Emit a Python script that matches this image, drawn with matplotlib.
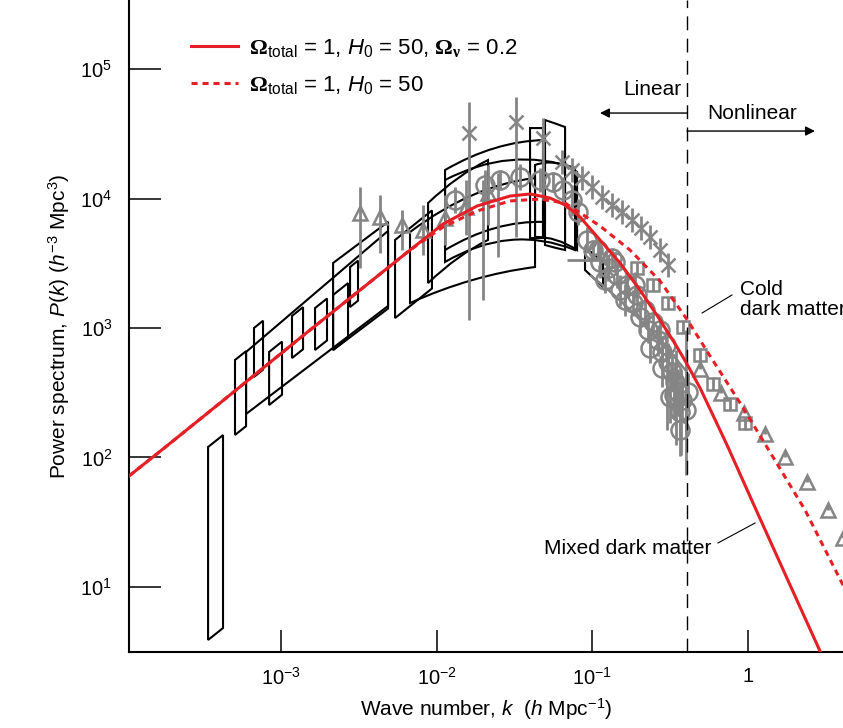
import numpy as np
import matplotlib
matplotlib.use('Agg')
import matplotlib.pyplot as plt
from matplotlib.path import Path
from matplotlib.patches import PathPatch, Polygon
from matplotlib.lines import Line2D
from matplotlib.ticker import NullLocator

plt.rcParams['font.family'] = ['Liberation Sans', 'DejaVu Sans']
plt.rcParams['mathtext.fontset'] = 'custom'
plt.rcParams['mathtext.rm'] = 'Liberation Sans'
plt.rcParams['mathtext.it'] = 'Liberation Sans:italic'
plt.rcParams['mathtext.bf'] = 'Liberation Serif:bold'

RED = '#e41f26'
GREY = '#858585'

# ---- theory curves (log10 k, log10 P)
mdm_logk = [-3.976, -3.757, -3.391, -2.877, -2.492, -2.171, -1.959, -1.741, -1.529, -1.400,
            -1.272, -1.175, -1.079, -0.951, -0.822, -0.694, -0.565, -0.456, -0.392, -0.308,
            -0.135, 0.058, 0.270, 0.462, 0.527]
mdm_logp = [1.857, 2.066, 2.421, 2.923, 3.293, 3.602, 3.803, 3.942, 4.019, 4.035,
            4.004, 3.950, 3.857, 3.680, 3.502, 3.293, 3.062, 2.853, 2.722, 2.537,
            2.097, 1.579, 1.015, 0.506, 0.344]
cdm_logk = [-3.976, -3.757, -3.391, -2.877, -2.492, -2.171, -1.959, -1.741, -1.529, -1.336,
            -1.175, -0.951, -0.758, -0.565, -0.385, -0.244, -0.051, 0.141, 0.366, 0.610, 0.655]
cdm_logp = [1.857, 2.066, 2.421, 2.923, 3.293, 3.602, 3.780, 3.903, 3.981, 3.996,
            3.965, 3.788, 3.602, 3.363, 3.054, 2.784, 2.421, 2.042, 1.595, 1.015, 0.915]

# ---- window boxes: logk1, logk2, bottom-left, top-left, bottom-right, top-right (log10 P)
boxes = [
    (-3.468, -3.372, 0.591, 2.081, 0.683, 2.173),
    (-3.295, -3.224, 2.174, 2.753, 2.242, 2.821),
    (-3.173, -3.115, 2.622, 3.000, 2.678, 3.056),
    (-3.076, -2.993, 2.405, 2.815, 2.485, 2.895),
    (-2.929, -2.858, 2.768, 3.093, 2.836, 3.161),
    (-2.781, -2.704, 2.830, 3.154, 2.904, 3.228),
    (-3.224, -2.312, 2.336, 2.815, 3.170, 3.750),
    (-2.665, -2.312, 2.830, 3.502, 3.150, 3.820),
    (-2.665, -2.569, 2.830, 3.255, 2.922, 3.347),
    (-2.556, -2.505, 3.162, 3.471, 3.211, 3.520),
    (-2.267, -2.030, 3.077, 3.680, 3.305, 3.908),
    (-1.047, -0.931, 3.448, 3.625, 3.317, 3.510),
]

# curved boxes near the peak: logk1, logk2, top (left, mid, right), bottom (left, mid, right)
curved_boxes = [
    (-2.055, -1.670, (3.965, 4.158, 4.297), (3.347, 3.541, 3.680)),
    (-1.946, -1.304, (4.220, 4.390, 4.452), (3.602, 3.772, 3.819)),
    (-1.946, -1.111, (4.143, 4.297, 4.236), (3.510, 3.680, 3.602)),
    (-2.171, -1.368, (3.741, 4.027, 4.158), (3.193, 3.371, 3.471)),
    (-1.368, -1.098, (4.259, 4.274, 4.205), (3.703, 3.680, 3.602)),
    (-1.400, -1.317, (4.544, 4.544, 4.544), (3.695, 3.695, 3.695)),
    (-1.304, -1.175, (4.606, 4.580, 4.552), (3.641, 3.620, 3.602)),
]
grey_edge_logk = (-1.015, -0.392)
grey_edge_logp = (3.409, 3.077, 2.660)

# ---- measurements
tri_logk = [-2.492, -2.364, -2.222, -2.087, -1.946, -1.811, -1.670]
tri_logp = [3.888, 3.857, 3.795, 3.757, 3.849, 3.934, 4.042]
tri_lo = [3.463, 3.579, 3.602, 3.564, 3.641, 3.718, 3.795]
tri_hi = [4.089, 4.027, 3.911, 3.950, 4.027, 4.143, 4.259]

tail_logk = [-0.308, -0.173, -0.026, 0.109, 0.238, 0.379, 0.514, 0.610]
tail_logp = [2.683, 2.498, 2.344, 2.181, 2.004, 1.811, 1.595, 1.378]

sq_logk = [-0.713, -0.610, -0.514, -0.417, -0.308, -0.225, -0.116, -0.019]
sq_logp = [3.463, 3.332, 3.193, 3.008, 2.792, 2.568, 2.413, 2.266]

big_x_logk = [-1.792, -1.490, -1.317]
big_x_logp = [4.506, 4.591, 4.467]
big_x_lo = [3.062, 3.703, 3.988]
big_x_hi = [4.745, 4.784, 4.622]

star_logk = [-1.195, -1.130, -1.066, -1.002, -0.938, -0.873, -0.809, -0.745, -0.687, -0.629,
             -0.565, -0.514]
star_logp = [4.282, 4.220, 4.158, 4.089, 4.012, 3.950, 3.896, 3.834, 3.772, 3.703,
             3.602, 3.486]

circ_logk = [-1.882, -1.689, -1.593, -1.464, -1.336, -1.252, -1.188, -1.130, -1.092,
             -1.034, -0.996, -0.951, -0.899, -0.873, -0.841, -0.822, -0.777, -0.739, -0.713,
             -0.694, -0.662, -0.642, -0.610, -0.578, -0.565, -0.552, -0.527, -0.514, -0.488,
             -0.469, -0.450, -0.501, -0.424, -0.398, -0.437,
             -0.918, -0.854, -0.790, -0.726, -0.629, -0.552, -0.475, -0.385, -0.963, -0.437]
circ_logp = [3.988, 4.104, 4.143, 4.166, 4.143, 4.127, 4.066, 3.988, 3.896,
             3.680, 3.602, 3.510, 3.463, 3.541, 3.409, 3.293, 3.332, 3.193, 3.255,
             3.085, 3.139, 2.985, 3.046, 2.907, 2.985, 2.815, 2.869, 2.737, 2.660,
             2.583, 2.506, 2.467, 2.444, 2.367, 2.351,
             3.371, 3.510, 3.216, 3.332, 2.846, 2.691, 2.483, 2.506, 3.602, 2.212]
circ_err = [0.10, 0.12, 0.08, 0.10, 0.09, 0.08, 0.10, 0.12, 0.10,
            0.10, 0.08, 0.12, 0.10, 0.08, 0.10, 0.12, 0.09, 0.10, 0.08,
            0.12, 0.10, 0.10, 0.08, 0.12, 0.09, 0.10, 0.12, 0.15, 0.12,
            0.15, 0.18, 0.20, 0.15, 0.18, 0.20,
            0.10, 0.08, 0.12, 0.10, 0.12, 0.15, 0.18, 0.15, 0.08, 0.20]

bar_logk = [-1.702, -1.606, -0.398, -0.462, -0.430, -0.520]
bar_lo = [3.216, 3.548, 1.865, 2.097, 2.019, 2.214]
bar_hi = [4.143, 4.197, 2.985, 2.830, 2.676, 2.792]

hbar_logk = (-1.163, -0.951)
hbar_logp = 3.525

k_split = 10 ** -0.392


def asym(logp, lo, hi):
    p = 10 ** np.array(logp)
    return p, [p - 10 ** np.array(lo), 10 ** np.array(hi) - p]


fig = plt.figure(figsize=(8.43, 7.28), dpi=100)
ax = fig.add_axes([0.153, 0.1044, 0.847, 0.8956])
ax.set_xscale('log')
ax.set_yscale('log')

# straight boxes
for k1, k2, b1, t1, b2, t2 in boxes:
    pts = 10 ** np.array([[k1, b1], [k1, t1], [k2, t2], [k2, b2]])
    ax.add_patch(Polygon(pts, closed=True, fill=False, ec='k', lw=1.5, zorder=2))

# curved boxes
for k1, k2, top, bot in curved_boxes:
    km = 0.5 * (k1 + k2)
    ct = 2 * top[1] - 0.5 * (top[0] + top[2])
    cb = 2 * bot[1] - 0.5 * (bot[0] + bot[2])
    verts = 10 ** np.array([[k1, top[0]], [km, ct], [k2, top[2]], [k2, bot[2]],
                            [km, cb], [k1, bot[0]], [k1, top[0]]])
    codes = [Path.MOVETO, Path.CURVE3, Path.CURVE3, Path.LINETO,
             Path.CURVE3, Path.CURVE3, Path.CLOSEPOLY]
    ax.add_patch(PathPatch(Path(verts, codes), fill=False, ec='k', lw=1.5, zorder=2))

km = 0.5 * (grey_edge_logk[0] + grey_edge_logk[1])
cg = 2 * grey_edge_logp[1] - 0.5 * (grey_edge_logp[0] + grey_edge_logp[2])
gv = 10 ** np.array([[grey_edge_logk[0], grey_edge_logp[0]], [km, cg],
                     [grey_edge_logk[1], grey_edge_logp[2]]])
ax.add_patch(PathPatch(Path(gv, [Path.MOVETO, Path.CURVE3, Path.CURVE3]),
                       fill=False, ec=GREY, lw=1.8, zorder=3))

# grey measurements
ekw = dict(ls='none', mfc='none', mec=GREY, ecolor=GREY, elinewidth=2, capsize=0,
           mew=1.8, zorder=3)
bk = 10 ** np.array(bar_logk)
ax.vlines(bk, 10 ** np.array(bar_lo), 10 ** np.array(bar_hi), color=GREY, lw=2, zorder=3)
ax.hlines(10 ** hbar_logp, 10 ** hbar_logk[0], 10 ** hbar_logk[1], color=GREY, lw=2, zorder=3)

p, e = asym(tri_logp, tri_lo, tri_hi)
ax.errorbar(10 ** np.array(tri_logk), p, yerr=e, fmt='^', ms=10, **ekw)
p, e = asym(big_x_logp, big_x_lo, big_x_hi)
ax.errorbar(10 ** np.array(big_x_logk), p, yerr=e, fmt='x', ms=10, **ekw)

p = 10 ** np.array(star_logp)
ax.errorbar(10 ** np.array(star_logk), p, yerr=[p - p / 10 ** 0.09, p * 10 ** 0.09 - p],
            fmt='x', ms=10, **ekw)
p = 10 ** np.array(circ_logp)
ce = 10 ** np.array(circ_err)
ax.errorbar(10 ** np.array(circ_logk), p, yerr=[p - p / ce, p * ce - p],
            fmt='o', ms=13, **ekw)
p = 10 ** np.array(sq_logp)
ax.errorbar(10 ** np.array(sq_logk), p, yerr=[p - p / 10 ** 0.05, p * 10 ** 0.05 - p],
            fmt='s', ms=9, **ekw)
p = 10 ** np.array(tail_logp)
ax.errorbar(10 ** np.array(tail_logk), p, yerr=[p * 0, p * 10 ** 0.045 - p],
            fmt='^', ms=10, **ekw)

# theory
ax.plot(10 ** np.array(cdm_logk), 10 ** np.array(cdm_logp), color=RED, lw=2.2,
        ls=(0, (2, 1.6)), zorder=5)
ax.plot(10 ** np.array(mdm_logk), 10 ** np.array(mdm_logp), color=RED, lw=2.2, zorder=6)

ax.axvline(k_split, color='k', lw=1, dashes=(10, 6), zorder=4)

ax.set_xlim(10 ** -3.976, 10 ** 0.610)
ax.set_ylim(10 ** 0.498, 10 ** 5.533)

ax.set_xticks([1e-3, 1e-2, 1e-1, 1])
ax.set_xticklabels([r'$10^{-3}$', r'$10^{-2}$', r'$10^{-1}$', '1'])
ax.set_yticks([1e1, 1e2, 1e3, 1e4, 1e5])
ax.set_yticklabels([r'$10^{1}$', r'$10^{2}$', r'$10^{3}$', r'$10^{4}$', r'$10^{5}$'])
ax.xaxis.set_minor_locator(NullLocator())
ax.yaxis.set_minor_locator(NullLocator())
ax.tick_params(axis='y', direction='in', length=23, width=1.1, pad=12, labelsize=14.5)
ax.tick_params(axis='x', direction='in', length=16, width=1.1, pad=11, labelsize=14.5)
for s in ['top', 'right']:
    ax.spines[s].set_visible(False)
for s in ['left', 'bottom']:
    ax.spines[s].set_linewidth(1.5)

ax.set_xlabel(r'Wave number, $k$  ($h$ Mpc$^{-1}$)', fontsize=15, labelpad=5)
ax.set_ylabel(r'Power spectrum, $P$($k$) ($h^{-3}$ Mpc$^{3}$)', fontsize=15, labelpad=6)

handles = [Line2D([], [], color=RED, lw=2.2),
           Line2D([], [], color=RED, lw=2.2, ls=(0, (2, 1.6)))]
labels = [r'$\mathbf{\Omega}_{\rm total}$ = 1, $H_0$ = 50, $\mathbf{\Omega}_{\mathbf{\nu}}$ = 0.2',
          r'$\mathbf{\Omega}_{\rm total}$ = 1, $H_0$ = 50']
ax.legend(handles, labels, loc='upper left', bbox_to_anchor=(0.075, 0.957), frameon=False,
          fontsize=16, handlelength=2.1, handletextpad=0.5, labelspacing=0.65,
          borderaxespad=0)

arr = dict(arrowstyle='-|>', color='k', lw=1, mutation_scale=14, shrinkA=0, shrinkB=0)
ax.annotate('', xy=(10 ** -0.951, 10 ** 4.660), xytext=(k_split, 10 ** 4.660), arrowprops=arr)
ax.annotate('', xy=(10 ** 0.430, 10 ** 4.521), xytext=(k_split, 10 ** 4.521), arrowprops=arr)
ax.text(10 ** -0.43, 10 ** 4.838, 'Linear', ha='right', va='center', fontsize=15)
ax.text(10 ** -0.263, 10 ** 4.660, 'Nonlinear', ha='left', va='center', fontsize=15)

ax.text(10 ** -0.051, 10 ** 3.22, 'Cold\ndark matter', ha='left', va='center',
        fontsize=15, linespacing=1.05)
ax.plot([10 ** -0.295, 10 ** -0.103], [10 ** 3.116, 10 ** 3.255], color='k', lw=0.8)
ax.text(10 ** -0.771, 10 ** 1.301, 'Mixed dark matter', ha='center', va='center', fontsize=15)
ax.plot([10 ** -0.193, 10 ** 0.045], [10 ** 1.340, 10 ** 1.494], color='k', lw=0.8)

fig.savefig('out.png', dpi=100)
